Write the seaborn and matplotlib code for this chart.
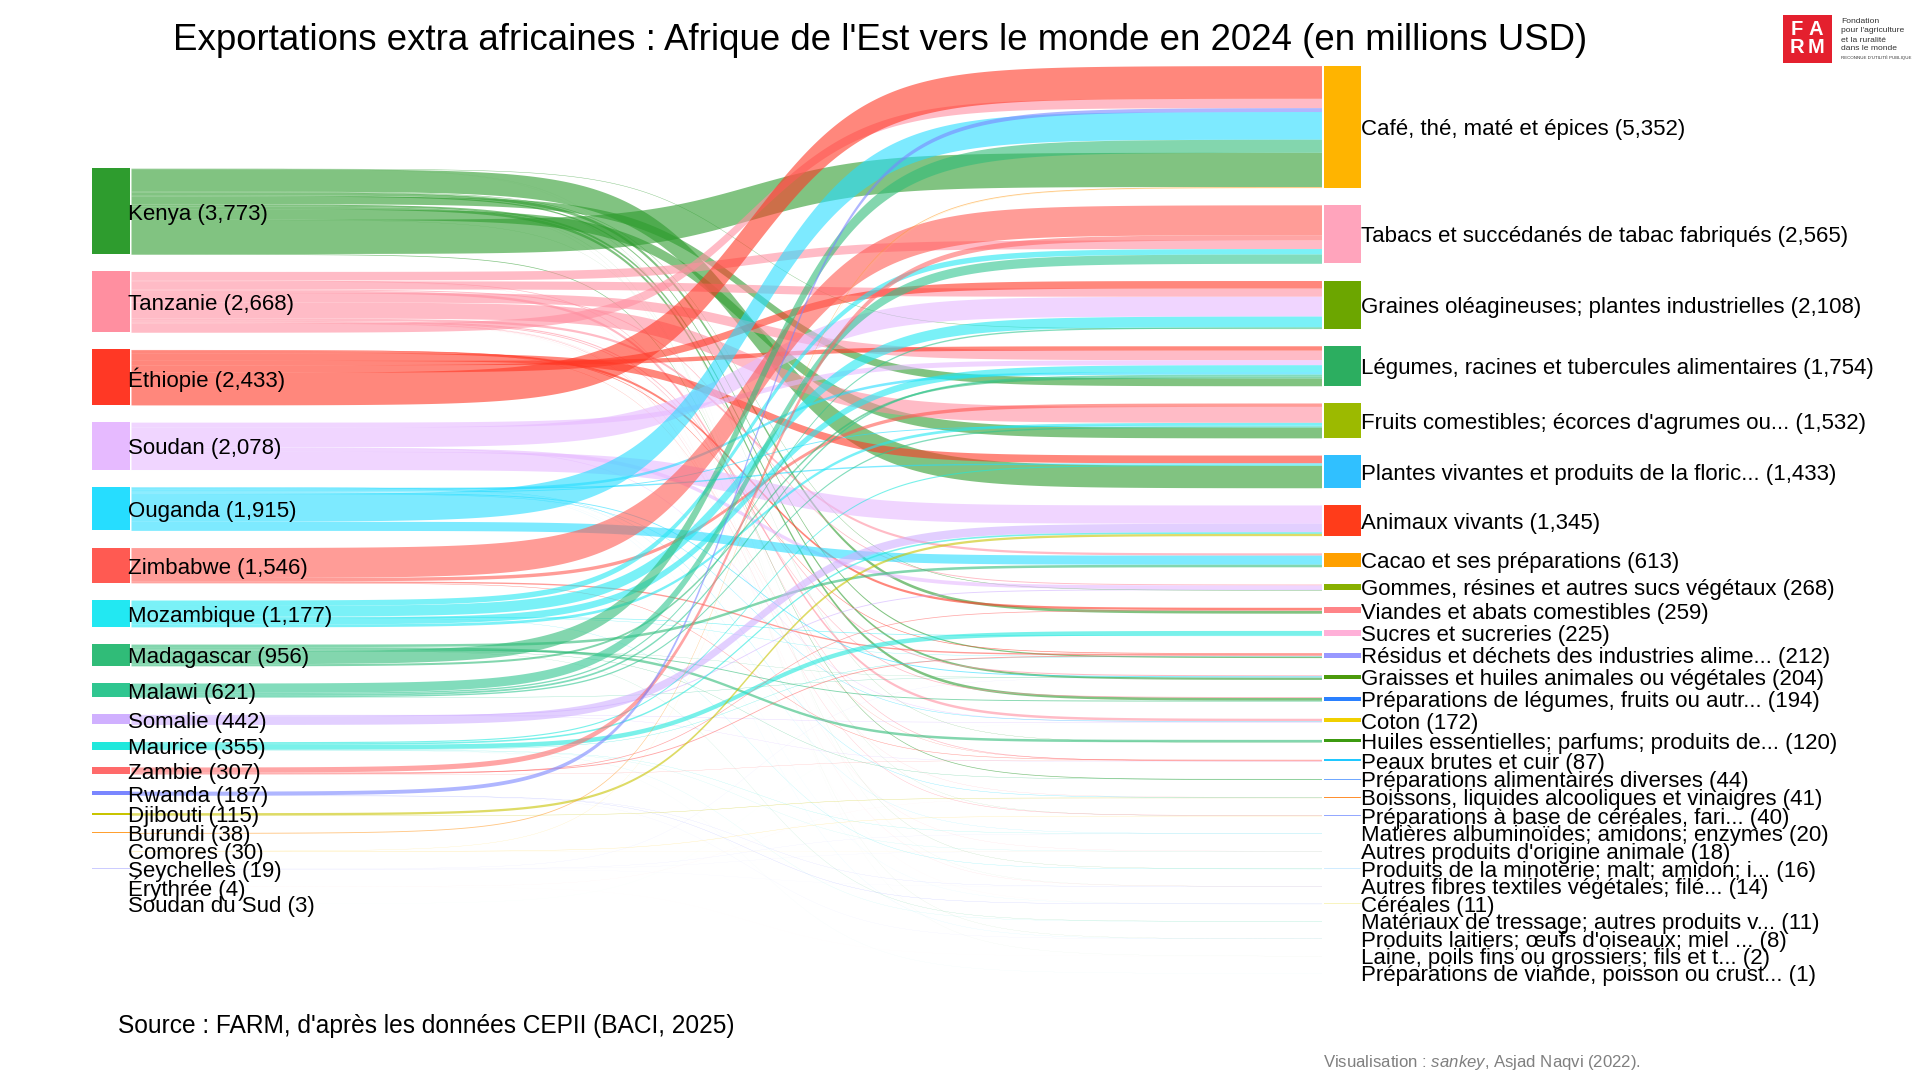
import numpy as np
import pandas as pd
import matplotlib
matplotlib.use("Agg")
import matplotlib.pyplot as plt
from matplotlib.patches import Rectangle
import seaborn as sns

sns.set_theme(style="white")
plt.rcParams["font.family"] = ["Liberation Sans", "DejaVu Sans"]
plt.rcParams["mathtext.fontset"] = "custom"
plt.rcParams["mathtext.rm"] = "Liberation Sans"
plt.rcParams["mathtext.it"] = "Liberation Sans:italic"

# ---------- data (millions USD) ----------
origins = ["Kenya", "Tanzanie", "Éthiopie", "Soudan", "Ouganda", "Zimbabwe", "Mozambique",
           "Madagascar", "Malawi", "Somalie", "Maurice", "Zambie", "Rwanda", "Djibouti",
           "Burundi", "Comores", "Seychelles", "Érythrée", "Soudan du Sud"]
origin_totals = [3773, 2668, 2433, 2078, 1915, 1546, 1177, 956, 621, 442, 355, 307, 187, 115,
                 38, 30, 19, 4, 3]
origin_colors = ["#2E9C2E", "#FF8FA0", "#FF3825", "#E6BAFF", "#26DDFF", "#FF5A52", "#22E8F2",
                 "#30BC78", "#2FC690", "#D0B0FF", "#20E8DC", "#FF6A6A", "#7A86FF", "#C8C400",
                 "#FFA030", "#FFE070", "#CCCCFF", "#FFCCCC", "#DDFFEE"]

product_keys = ["Caf", "Tab", "Gra", "Leg", "Fru", "Pla", "Ani", "Cac", "Gom", "Via", "Suc", "Res",
                "Grs", "Pre", "Cot", "Hui", "Pea", "PAl", "Boi", "PBa", "Mat", "Aut", "Prm", "Afi",
                "Cer", "Mtr", "Pdl", "Lai", "Pvi"]
product_names = ["Café, thé, maté et épices", "Tabacs et succédanés de tabac fabriqués",
                 "Graines oléagineuses; plantes industrielles",
                 "Légumes, racines et tubercules alimentaires",
                 "Fruits comestibles; écorces d'agrumes ou...", "Plantes vivantes et produits de la floric...",
                 "Animaux vivants", "Cacao et ses préparations", "Gommes, résines et autres sucs végétaux",
                 "Viandes et abats comestibles", "Sucres et sucreries", "Résidus et déchets des industries alime...",
                 "Graisses et huiles animales ou végétales", "Préparations de légumes, fruits ou autr...",
                 "Coton", "Huiles essentielles; parfums; produits de...", "Peaux brutes et cuir",
                 "Préparations alimentaires diverses", "Boissons, liquides alcooliques et vinaigres",
                 "Préparations à base de céréales, fari...", "Matières albuminoïdes; amidons; enzymes",
                 "Autres produits d'origine animale", "Produits de la minoterie; malt; amidon; i...",
                 "Autres fibres textiles végétales; filé...", "Céréales", "Matériaux de tressage; autres produits v...",
                 "Produits laitiers; œufs d'oiseaux; miel ...", "Laine, poils fins ou grossiers; fils et t...",
                 "Préparations de viande, poisson ou crust..."]
product_totals = [5352, 2565, 2108, 1754, 1532, 1433, 1345, 613, 268, 259, 225, 212, 204, 194, 172,
                  120, 87, 44, 41, 40, 20, 18, 16, 14, 11, 11, 8, 2, 1]
product_colors = ["#FFB400", "#FFA4BC", "#6CA600", "#2CAE60", "#9CBA00", "#30C0FF", "#FF3C1A", "#FFA000",
                  "#88B000", "#FF8488", "#FFB0D8", "#9898FF", "#4C9A0C", "#2A80FF", "#F0D000", "#3C9A10",
                  "#20C8FF", "#70A8FF", "#FF9030", "#94A8FF", "#A0E8C8", "#FFD0B0", "#D0ECFF", "#FFDCD8",
                  "#F8F4C0", "#D8F4F4", "#DCECFC", "#EEF6F6", "#F4F8FA"]

# flows into each product, in their order at the right-hand node, top to bottom
flows_caf = [("Éthiopie", 1434), ("Tanzanie", 410), ("Rwanda", 170), ("Ouganda", 1215), ("Madagascar", 574),
             ("Kenya", 1500), ("Burundi", 38), ("Comores", 11)]
flows_tab = [("Zimbabwe", 1314), ("Zambie", 226), ("Tanzanie", 377), ("Mozambique", 241), ("Malawi", 407)]
flows_gra = [("Éthiopie", 330), ("Tanzanie", 360), ("Soudan", 870), ("Mozambique", 468), ("Malawi", 60), ("Kenya", 20)]
flows_leg = [("Éthiopie", 190), ("Tanzanie", 420), ("Soudan", 220), ("Mozambique", 300), ("Ouganda", 114),
             ("Malawi", 80), ("Madagascar", 90), ("Kenya", 340)]
flows_fru = [("Zimbabwe", 150), ("Tanzanie", 700), ("Mozambique", 120), ("Ouganda", 40), ("Malawi", 60), ("Kenya", 462)]
flows_pla = [("Éthiopie", 339), ("Ouganda", 60), ("Maurice", 51), ("Kenya", 983)]
flows_ani = [("Soudan", 800), ("Somalie", 375), ("Maurice", 70), ("Djibouti", 100)]
flows_cac = [("Tanzanie", 100), ("Ouganda", 400), ("Madagascar", 113)]
flows_gom = [("Tanzanie", 40), ("Soudan", 165), ("Somalie", 40), ("Kenya", 23)]
flows_via = [("Éthiopie", 100), ("Zambie", 32), ("Tanzanie", 2), ("Kenya", 125)]
flows_suc = [("Maurice", 200), ("Mozambique", 25)]
flows_res = [("Éthiopie", 30), ("Zimbabwe", 60), ("Zambie", 39), ("Mozambique", 13), ("Maurice", 16), ("Kenya", 54)]
flows_grs = [("Tanzanie", 45), ("Ouganda", 40), ("Malawi", 14), ("Madagascar", 9), ("Seychelles", 7), ("Kenya", 89)]
flows_pre = [("Tanzanie", 35), ("Kenya", 120), ("Madagascar", 39)]
flows_cot = [("Tanzanie", 110), ("Ouganda", 20), ("Soudan", 23), ("Somalie", 16), ("Soudan du Sud", 3)]
flows_hui = [("Madagascar", 110), ("Kenya", 10)]
flows_pea = [("Zimbabwe", 22), ("Zambie", 10), ("Éthiopie", 10), ("Tanzanie", 30), ("Somalie", 11)]
flows_pal = [("Madagascar", 14), ("Kenya", 30)]
flows_boi = [("Tanzanie", 8), ("Ouganda", 15), ("Djibouti", 15), ("Érythrée", 3)]
flows_pba = [("Tanzanie", 20), ("Kenya", 5), ("Comores", 15)]
flows_mat = [("Ouganda", 6), ("Maurice", 8), ("Seychelles", 6)]
flows_aut = [("Tanzanie", 5), ("Maurice", 5), ("Comores", 4), ("Seychelles", 4)]
flows_prm = [("Kenya", 6), ("Mozambique", 10)]
flows_afi = [("Tanzanie", 5), ("Kenya", 2), ("Seychelles", 2), ("Rwanda", 5)]
flows_cer = [("Tanzanie", 1), ("Ouganda", 2), ("Rwanda", 8)]
flows_mtr = [("Madagascar", 7), ("Maurice", 4)]
flows_pdl = [("Kenya", 3), ("Ouganda", 3), ("Rwanda", 2)]
flows_lai = [("Kenya", 1), ("Érythrée", 1)]
flows_pvi = [("Maurice", 1)]
all_flows = [flows_caf, flows_tab, flows_gra, flows_leg, flows_fru, flows_pla, flows_ani, flows_cac, flows_gom,
             flows_via, flows_suc, flows_res, flows_grs, flows_pre, flows_cot, flows_hui, flows_pea, flows_pal,
             flows_boi, flows_pba, flows_mat, flows_aut, flows_prm, flows_afi, flows_cer, flows_mtr, flows_pdl,
             flows_lai, flows_pvi]

# order of flows at each left-hand node, top to bottom
order_kenya = ["Lai", "Afi", "Gra", "Pla", "Gom", "Hui", "Via", "Res", "Leg", "Pdl", "Prm", "Grs", "Pre", "Fru", "PBa", "Caf", "PAl"]
order_tanzanie = ["Tab", "Pea", "Afi", "Gra", "Gom", "Cot", "Leg", "Fru", "Cac", "Grs", "Pre", "Via", "Boi", "PBa", "Aut", "Cer", "Caf"]
order_ethiopie = ["Pea", "Res", "Via", "Pla", "Leg", "Gra", "Caf"]
order_soudan = ["Leg", "Gra", "Cot", "Gom", "Ani"]
order_ouganda = ["Cer", "Pdl", "Boi", "Mat", "Pla", "Leg", "Fru", "Grs", "Cot", "Caf", "Cac"]
order_zimbabwe = ["Tab", "Fru", "Res", "Pea"]
order_mozambique = ["Tab", "Gra", "Suc", "Res", "Prm", "Leg", "Fru"]
order_madagascar = ["Cac", "Hui", "Pre", "Mtr", "PAl", "Grs", "Caf", "Leg"]
order_malawi = ["Tab", "Gra", "Leg", "Fru", "Grs"]
order_somalie = ["Cot", "Pea", "Gom", "Ani"]
order_maurice = ["Pla", "Ani", "Suc", "Res", "Mat", "Aut", "Mtr", "Pvi"]
order_zambie = ["Tab", "Res", "Via", "Pea"]
order_rwanda = ["Caf", "Cer", "Afi", "Pdl"]
left_orders = {"Kenya": order_kenya, "Tanzanie": order_tanzanie, "Éthiopie": order_ethiopie, "Soudan": order_soudan,
               "Ouganda": order_ouganda, "Zimbabwe": order_zimbabwe, "Mozambique": order_mozambique,
               "Madagascar": order_madagascar, "Malawi": order_malawi, "Somalie": order_somalie,
               "Maurice": order_maurice, "Zambie": order_zambie, "Rwanda": order_rwanda}

title_text = "Exportations extra africaines : Afrique de l'Est vers le monde en 2024 (en millions USD)"
source_text = "Source : FARM, d'après les données CEPII (BACI, 2025)"
credit_text = r"Visualisation : $\mathit{sankey}$, Asjad Naqvi (2022)."
logo_lines = ["Fondation", "pour l'agriculture", "et la ruralité", "dans le monde"]

# ---------- layout ----------
PX_PER_UNIT = 0.0228
GAP = 17.2 / PX_PER_UNIT
LEFT_TOP = 168.2 / PX_PER_UNIT
RIGHT_TOP = 65.6 / PX_PER_UNIT
LEFT_X, RIGHT_X = 111.0, 1342.7
NODE_W = 37.5
FLOW_X0, FLOW_X1 = 131.0, 1321.5
STEEP = 20.0
MID = 0.52


def node_tops(totals, start):
    tops, y = [], start
    for v in totals:
        tops.append(y)
        y += v + GAP
    return tops


left_top = dict(zip(origins, node_tops(origin_totals, LEFT_TOP)))
right_top = dict(zip(product_keys, node_tops(product_totals, RIGHT_TOP)))
left_col = dict(zip(origins, sns.color_palette(origin_colors)))
right_col = dict(zip(product_keys, sns.color_palette(product_colors)))

rows = []
for key, fl in zip(product_keys, all_flows):
    y = right_top[key]
    for src, v in fl:
        rows.append(dict(source=src, product=key, value=v, y1=y))
        y += v
flows = pd.DataFrame(rows)

# left-hand stacking
flows["y0"] = 0.0
for src in origins:
    sub = flows[flows["source"] == src]
    wanted = left_orders.get(src, list(sub["product"]))
    y = left_top[src]
    for p in wanted:
        idx = sub.index[sub["product"] == p]
        if len(idx):
            flows.loc[idx[0], "y0"] = y
            y += sub.loc[idx[0], "value"]

# ---------- drawing ----------
fig = plt.figure(figsize=(19.2, 10.8), dpi=100, facecolor="white")
ax = fig.add_axes([0, 0, 1, 1])
xs = np.linspace(FLOW_X0, FLOW_X1, 500)
tt = (xs - FLOW_X0) / (FLOW_X1 - FLOW_X0)
lo = 1 / (1 + np.exp(STEEP * MID))
hi = 1 / (1 + np.exp(-STEEP * (1 - MID)))
s = (1 / (1 + np.exp(-STEEP * (tt - MID))) - lo) / (hi - lo)

for src in origins:
    for _, r in flows[flows["source"] == src].iterrows():
        top = r["y0"] + (r["y1"] - r["y0"]) * s
        ax.fill_between(xs, top, top + r["value"], color=left_col[src], alpha=0.6, lw=0)

for name, v in zip(origins, origin_totals):
    sns.barplot(x=[LEFT_X], y=[v], bottom=[left_top[name]], color=left_col[name], saturation=1,
                native_scale=True, width=NODE_W, orient="x", errorbar=None, ax=ax, linewidth=0)
for key, v in zip(product_keys, product_totals):
    sns.barplot(x=[RIGHT_X], y=[v], bottom=[right_top[key]], color=right_col[key], saturation=1,
                native_scale=True, width=NODE_W, orient="x", errorbar=None, ax=ax, linewidth=0)

ax.set_xlim(0, 1920)
ax.set_ylim(1080 / PX_PER_UNIT, 0)
ax.axis("off")

# text overlay, in picture pixels
ov = fig.add_axes([0, 0, 1, 1], facecolor="none")
ov.set_xlim(0, 1920)
ov.set_ylim(1080, 0)
ov.axis("off")

LABEL_SIZE = 16.0
for name, v in zip(origins, origin_totals):
    yc = (left_top[name] + v / 2) * PX_PER_UNIT
    ov.text(128.5, yc + 3, f"{name} ({v:,})", fontsize=LABEL_SIZE, va="center", ha="left", color="black")
for name, key, v in zip(product_names, product_keys, product_totals):
    yc = (right_top[key] + v / 2) * PX_PER_UNIT
    ov.text(1361, yc + 2.8, f"{name} ({v:,})", fontsize=LABEL_SIZE, va="center", ha="left", color="black")

ov.text(173, 41, title_text, fontsize=26.4, va="center", ha="left", color="black")
ov.text(118, 1026, source_text, fontsize=17.65, va="center", ha="left", color="black")
ov.text(1323, 1062, credit_text, fontsize=12.1, va="center", ha="left", color="#808080")

# logo
ov.add_patch(Rectangle((1783, 14.5), 48.5, 48, facecolor="#E4202E", edgecolor="none"))
for x, y, ch in [(1797, 29.5, "F"), (1816, 29.5, "A"), (1797, 47.5, "R"), (1816, 47.5, "M")]:
    ov.text(x, y, ch, fontsize=14.5, color="white", fontweight="bold", ha="center", va="center")
for y, line in zip([21.7, 31, 40, 49], logo_lines):
    ov.text(1841, y, line, fontsize=6.1, color="#333333", ha="left", va="center")
ov.text(1841, 57.5, "RECONNUE D'UTILITÉ PUBLIQUE", fontsize=3.2, color="#333333", ha="left", va="center")

fig.savefig("out.png", dpi=100)
